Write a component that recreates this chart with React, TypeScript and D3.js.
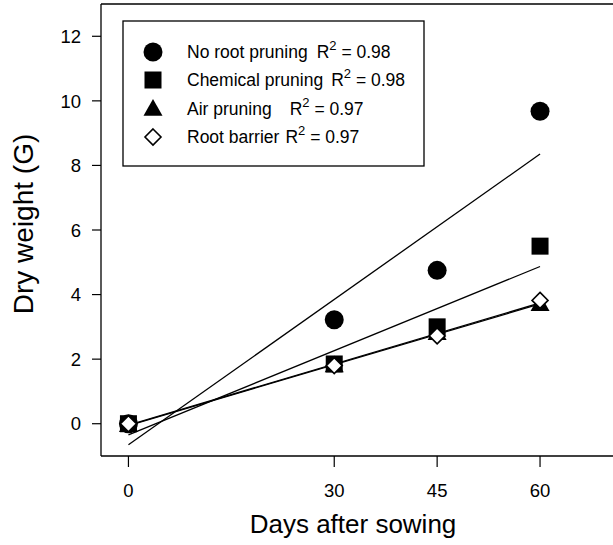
import React from "react";
import * as d3 from "d3";

const days = [0, 30, 45, 60];
const xTicks = [0, 30, 45, 60];
const yTicks = [0, 2, 4, 6, 8, 10, 12];
const seriesNames = ["No root pruning", "Chemical pruning", "Air pruning", "Root barrier"];
const r2Labels = ["0.98", "0.98", "0.97", "0.97"];
const noRoot = [0, 3.22, 4.75, 9.68];
const chemical = [0, 1.85, 3.0, 5.5];
const air = [-0.05, 1.8, 2.8, 3.7];
const barrier = [0, 1.8, 2.72, 3.82];
const symbols = ["circle", "square", "triangle", "diamond"];
const seriesValues = [noRoot, chemical, air, barrier];

const FONT = "'Liberation Sans', Arial, Helvetica, sans-serif";

function regress(xs: number[], ys: number[]) {
  const mx = d3.mean(xs)!;
  const my = d3.mean(ys)!;
  let sxy = 0, sxx = 0;
  xs.forEach((x, i) => {
    sxy += (x - mx) * (ys[i] - my);
    sxx += (x - mx) * (x - mx);
  });
  const slope = sxy / sxx;
  return { slope, intercept: my - slope * mx };
}

function Marker({ kind, cx, cy }: { kind: string; cx: number; cy: number }) {
  if (kind === "circle") return <circle cx={cx} cy={cy} r={9.5} fill="#000" />;
  if (kind === "square") return <rect x={cx - 8.5} y={cy - 8.5} width={17} height={17} fill="#000" />;
  if (kind === "triangle") {
    const s = 19;
    const h = s * 0.88;
    return (
      <path
        d={`M${cx},${cy - h * 0.6}L${cx + s / 2},${cy + h * 0.4}L${cx - s / 2},${cy + h * 0.4}Z`}
        fill="#000"
      />
    );
  }
  const d = 8;
  return (
    <path
      d={`M${cx},${cy - d}L${cx + d},${cy}L${cx},${cy + d}L${cx - d},${cy}Z`}
      fill="#fff"
      stroke="#000"
      strokeWidth={1.6}
    />
  );
}

export default function App() {
  const W = 613, H = 545;
  const x = d3.scaleLinear().domain([-4, 71]).range([101, 615.5]);
  const y = d3.scaleLinear().domain([-1, 13]).range([456, 4]);
  const line = d3.line<[number, number]>().x((d) => x(d[0])).y((d) => y(d[1]));

  const legendX = 153;
  const legendY = [52, 80, 109, 137];
  const rGap = [9, 8, 18, 6];

  return (
    <svg width={W} height={H} style={{ position: "absolute", left: 0, top: 0, background: "#fff" }} fontFamily={FONT}>
      <rect width={W} height={H} fill="#fff" />
      {/* frame */}
      <line x1={101} y1={4} x2={W} y2={4} stroke="#000" strokeWidth={1.3} />
      <line x1={101} y1={4} x2={101} y2={456} stroke="#000" strokeWidth={1.3} />
      <line x1={101} y1={456} x2={W} y2={456} stroke="#000" strokeWidth={1.3} />
      {/* y ticks */}
      {yTicks.map((t) => (
        <g key={t}>
          <line x1={92} x2={101} y1={y(t)} y2={y(t)} stroke="#000" strokeWidth={1.2} />
          <text x={81} y={y(t)} dy="0.36em" textAnchor="end" fontSize={18.5}>{t}</text>
        </g>
      ))}
      {/* x ticks */}
      {xTicks.map((t) => (
        <g key={t}>
          <line x1={x(t)} x2={x(t)} y1={456} y2={467} stroke="#000" strokeWidth={1.2} />
          <text x={x(t)} y={497} textAnchor="middle" fontSize={18.5}>{t}</text>
        </g>
      ))}
      <text x={353} y={533} textAnchor="middle" fontSize={26}>Days after sowing</text>
      <text transform={`translate(33,${224}) rotate(-90)`} textAnchor="middle" fontSize={28}>Dry weight (G)</text>
      {/* regression lines */}
      {seriesValues.map((vals, i) => {
        const { slope, intercept } = regress(days, vals);
        const pts: [number, number][] = [
          [0, intercept],
          [60, intercept + slope * 60],
        ];
        return <path key={i} d={line(pts)!} stroke="#000" strokeWidth={1.3} fill="none" />;
      })}
      {/* markers */}
      {seriesValues.map((vals, i) => (
        <g key={i}>
          {vals.map((v, j) => (
            <Marker key={j} kind={symbols[i]} cx={x(days[j])} cy={y(v)} />
          ))}
        </g>
      ))}
      {/* legend */}
      <rect x={123} y={21} width={301} height={145} fill="#fff" stroke="#000" strokeWidth={1.3} />
      {seriesNames.map((n, i) => (
        <g key={n}>
          <Marker kind={symbols[i]} cx={legendX} cy={legendY[i]} />
          <text x={187} y={legendY[i]} dy="0.36em" fontSize={17.5}>
            {n}
            <tspan dx={rGap[i]}>R</tspan>
            <tspan dy={-8} fontSize={13}>2</tspan>
            <tspan dy={8} xmlSpace="preserve">{" = " + r2Labels[i]}</tspan>
          </text>
        </g>
      ))}
    </svg>
  );
}
